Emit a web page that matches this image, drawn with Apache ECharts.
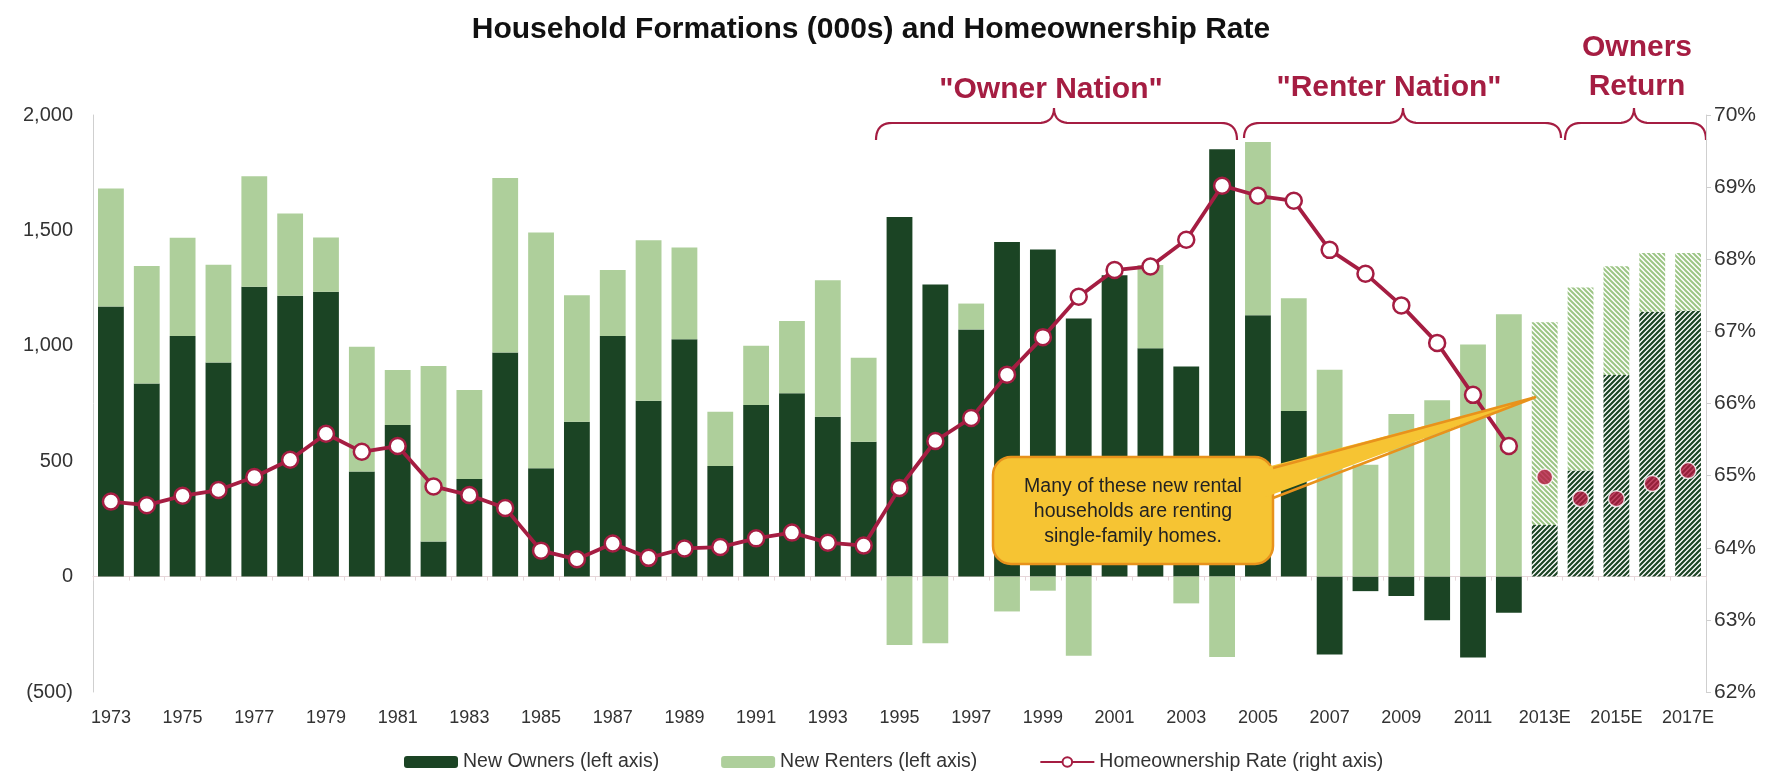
<!DOCTYPE html>
<html lang="en">
<head>
<meta charset="UTF-8">
<title>Household Formations (000s) and Homeownership Rate</title>
<script src="https://cdn.jsdelivr.net/npm/echarts@6/dist/echarts.min.js"></script>
<style>
    html, body { margin: 0; padding: 0; background: #fff; }
    #main { width: 1766px; height: 775px; }
</style>
</head>
<body>
<div id="main"></div>
<script type="text/javascript">
    // categories (E = estimate)
    const years = ['1973', '1974', '1975', '1976', '1977', '1978', '1979', '1980', '1981', '1982',
        '1983', '1984', '1985', '1986', '1987', '1988', '1989', '1990', '1991', '1992',
        '1993', '1994', '1995', '1996', '1997', '1998', '1999', '2000', '2001', '2002',
        '2003', '2004', '2005', '2006', '2007', '2008', '2009', '2010', '2011', '2012',
        '2013E', '2014E', '2015E', '2016E', '2017E']

    // household formations, thousands (left axis)
    const newOwners = [1170, 837, 1042, 928, 1256, 1217, 1234, 455, 657, 152,
        423, 971, 469, 671, 1042, 762, 1028, 479, 743, 794,
        693, 584, 1558, 1266, 1071, 1450, 1417, 1118, 1306, 989,
        910, 1852, 1132, 717, -337, -63, -84, -189, -351, -157,
        224, 460, 873, 1147, 1152]
    const newRenters = [512, 509, 426, 423, 479, 356, 235, 541, 238, 760,
        385, 756, 1022, 548, 286, 695, 398, 235, 257, 313,
        591, 364, -296, -289, 112, -151, -61, -343, 0, 361,
        -116, -348, 751, 489, 896, 485, 705, 764, 1006, 1137,
        878, 793, 472, 255, 250]

    // homeownership rate, % (right axis)
    const ownershipRate = [64.64, 64.59, 64.72, 64.80, 64.98, 65.22, 65.58, 65.33, 65.41, 64.85,
        64.73, 64.55, 63.96, 63.84, 64.06, 63.86, 63.99, 64.01, 64.13, 64.21,
        64.07, 64.03, 64.83, 65.48, 65.80, 66.40, 66.92, 67.48, 67.85, 67.90,
        68.27, 69.02, 68.88, 68.81, 68.13, 67.80, 67.36, 66.84, 66.12, 65.41,
        '-', '-', '-', '-', '-']
    const projectedRate = ['-', '-', '-', '-', '-', '-', '-', '-', '-', '-',
        '-', '-', '-', '-', '-', '-', '-', '-', '-', '-',
        '-', '-', '-', '-', '-', '-', '-', '-', '-', '-',
        '-', '-', '-', '-', '-', '-', '-', '-', '-', '-',
        64.98, 64.68, 64.68, 64.89, 65.07]

    const leftTicks = {min: -500, max: 2000, step: 500}
    const rightTicks = {min: 62, max: 70, step: 1}

    const darkGreen = '#1b4424'
    const lightGreen = '#aecf9b'
    const crimson = '#a51d42'
    const font = 'Liberation Sans, Arial, sans-serif'

    // diagonal hatch tile for the estimate bars
    function hatch(lineColor, width, forward) {
        const n = 5
        const c = document.createElement('canvas')
        c.width = n
        c.height = n
        const g = c.getContext('2d')
        g.fillStyle = '#fff'
        g.fillRect(0, 0, n, n)
        g.strokeStyle = lineColor
        g.lineWidth = width
        g.beginPath()
        if (forward) {
            g.moveTo(0, n); g.lineTo(n, 0)
            g.moveTo(-n / 2, n / 2); g.lineTo(n / 2, -n / 2)
            g.moveTo(n / 2, n * 1.5); g.lineTo(n * 1.5, n / 2)
        } else {
            g.moveTo(0, 0); g.lineTo(n, n)
            g.moveTo(-n / 2, n / 2); g.lineTo(n / 2, n * 1.5)
            g.moveTo(n / 2, -n / 2); g.lineTo(n * 1.5, n / 2)
        }
        g.stroke()
        return {image: c, repeat: 'repeat'}
    }
    const darkHatch = hatch(darkGreen, 2.2, true)
    const lightHatch = hatch('#9cc585', 2, false)

    function withHatch(values, pattern) {
        return values.map((v, i) => years[i].endsWith('E') ? {value: v, itemStyle: {color: pattern}} : v)
    }

    // curly brace as a polyline, opening downward
    function brace(x1, x2, xm, yEnd, yMid, yTop) {
        const pts = []
        const r = 16
        const q = (a, b, c) => {
            for (let k = 0; k <= 10; k++) {
                const t = k / 10
                pts.push([
                    (1 - t) * (1 - t) * a[0] + 2 * (1 - t) * t * b[0] + t * t * c[0],
                    (1 - t) * (1 - t) * a[1] + 2 * (1 - t) * t * b[1] + t * t * c[1]
                ])
            }
        }
        q([x1, yEnd], [x1, yMid], [x1 + r, yMid])
        q([xm - r, yMid], [xm, yMid], [xm, yTop])
        q([xm, yTop], [xm, yMid], [xm + r, yMid])
        q([x2 - r, yMid], [x2, yMid], [x2, yEnd])
        return {
            type: 'polyline',
            shape: {points: pts},
            style: {stroke: crimson, lineWidth: 2.2, fill: null}
        }
    }

    function label(text, x, y, size, color, weight) {
        return {
            type: 'text', x: x, y: y,
            style: {
                text: text, fill: color, font: (weight || 'normal') + ' ' + size + 'px ' + font,
                textAlign: 'center', textVerticalAlign: 'middle', align: 'center', verticalAlign: 'middle'
            }
        }
    }

    let chart = echarts.init(document.getElementById('main'))
    let option = {
        animation: false,
        backgroundColor: '#fff',
        textStyle: {fontFamily: font},
        grid: {left: 93, right: 60, top: 115, bottom: 83},
        legend: {
            left: 399,
            top: 747,
            itemWidth: 54,
            itemHeight: 12,
            itemGap: 62,
            textStyle: {fontSize: 19.5, color: '#333'},
            data: ['New Owners (left axis)', 'New Renters (left axis)', 'Homeownership Rate (right axis)']
        },
        xAxis: [
            {
                type: 'category',
                data: years,
                axisLine: {onZero: true, lineStyle: {color: '#e6d6d9', width: 1}},
                axisTick: {show: true, interval: 0, length: 4, lineStyle: {color: '#e6d6d9'}},
                axisLabel: {show: false}
            },
            {
                type: 'category',
                data: years,
                position: 'bottom',
                axisLine: {show: false, onZero: false},
                axisTick: {show: false},
                axisLabel: {interval: 1, fontSize: 18, color: '#333', margin: 17}
            }
        ],
        yAxis: [
            {
                type: 'value',
                min: leftTicks.min, max: leftTicks.max, interval: leftTicks.step,
                axisLine: {show: true, lineStyle: {color: '#cfcfcf'}},
                axisTick: {show: false},
                splitLine: {show: false},
                axisLabel: {
                    fontSize: 20, color: '#333', margin: 20,
                    formatter: v => v < 0 ? '(' + Math.abs(v) + ')' : v.toLocaleString('en-US')
                }
            },
            {
                type: 'value',
                position: 'right',
                min: rightTicks.min, max: rightTicks.max, interval: rightTicks.step,
                axisLine: {show: true, lineStyle: {color: '#cfcfcf'}},
                axisTick: {show: true, length: 5, lineStyle: {color: '#cfcfcf'}},
                splitLine: {show: false},
                axisLabel: {fontSize: 21, color: '#333', margin: 8, formatter: '{value}%'}
            }
        ],
        series: [
            {
                name: 'New Owners (left axis)',
                type: 'bar',
                stack: 'households',
                barWidth: '72%',
                itemStyle: {color: darkGreen},
                data: withHatch(newOwners, darkHatch)
            },
            {
                name: 'New Renters (left axis)',
                type: 'bar',
                stack: 'households',
                itemStyle: {color: lightGreen},
                data: withHatch(newRenters, lightHatch)
            },
            {
                name: 'Homeownership Rate (right axis)',
                type: 'line',
                yAxisIndex: 1,
                symbol: 'circle',
                symbolSize: 16,
                z: 5,
                lineStyle: {color: crimson, width: 3.8},
                itemStyle: {color: '#fff', borderColor: crimson, borderWidth: 2.5},
                data: ownershipRate
            },
            {
                name: 'Projected Rate',
                type: 'scatter',
                yAxisIndex: 1,
                symbolSize: 16,
                z: 5,
                itemStyle: {color: '#b3163f', borderColor: '#fff', borderWidth: 1.5},
                data: projectedRate
            }
        ],
        graphic: [
            label('Household Formations (000s) and Homeownership Rate', 871, 30, 30, '#111', 'bold'),
            brace(876, 1237, 1054, 140, 123, 108),
            brace(1244, 1561, 1403, 138, 123, 108),
            brace(1565, 1706, 1634, 140, 123, 108),
            label('"Owner Nation"', 1051, 90, 30, crimson, 'bold'),
            label('"Renter Nation"', 1389, 88, 30, crimson, 'bold'),
            label('Owners', 1637, 48, 30, crimson, 'bold'),
            label('Return', 1637, 87, 30, crimson, 'bold'),
            {
                type: 'rect',
                shape: {x: 993, y: 457, width: 280, height: 107, r: 18},
                style: {fill: '#f6c433', stroke: '#e8921c', lineWidth: 2.5},
                z: 10
            },
            {
                type: 'polygon',
                shape: {points: [[1263, 468], [1536, 397], [1263, 498]]},
                style: {fill: '#f6c433'},
                z: 11
            },
            {
                type: 'polyline',
                shape: {points: [[1273, 468], [1536, 397], [1273, 498]]},
                style: {stroke: '#e8921c', lineWidth: 2.5, fill: null},
                z: 11
            },
            {
                type: 'text', x: 1133, y: 512, z: 12,
                style: {
                    text: 'Many of these new rental\nhouseholds are renting\nsingle-family homes.',
                    fill: '#222', font: '19.5px ' + font, lineHeight: 25,
                    textAlign: 'center', textVerticalAlign: 'middle', align: 'center', verticalAlign: 'middle'
                }
            }
        ]
    }
    chart.setOption(option)
</script>
</body>
</html>
